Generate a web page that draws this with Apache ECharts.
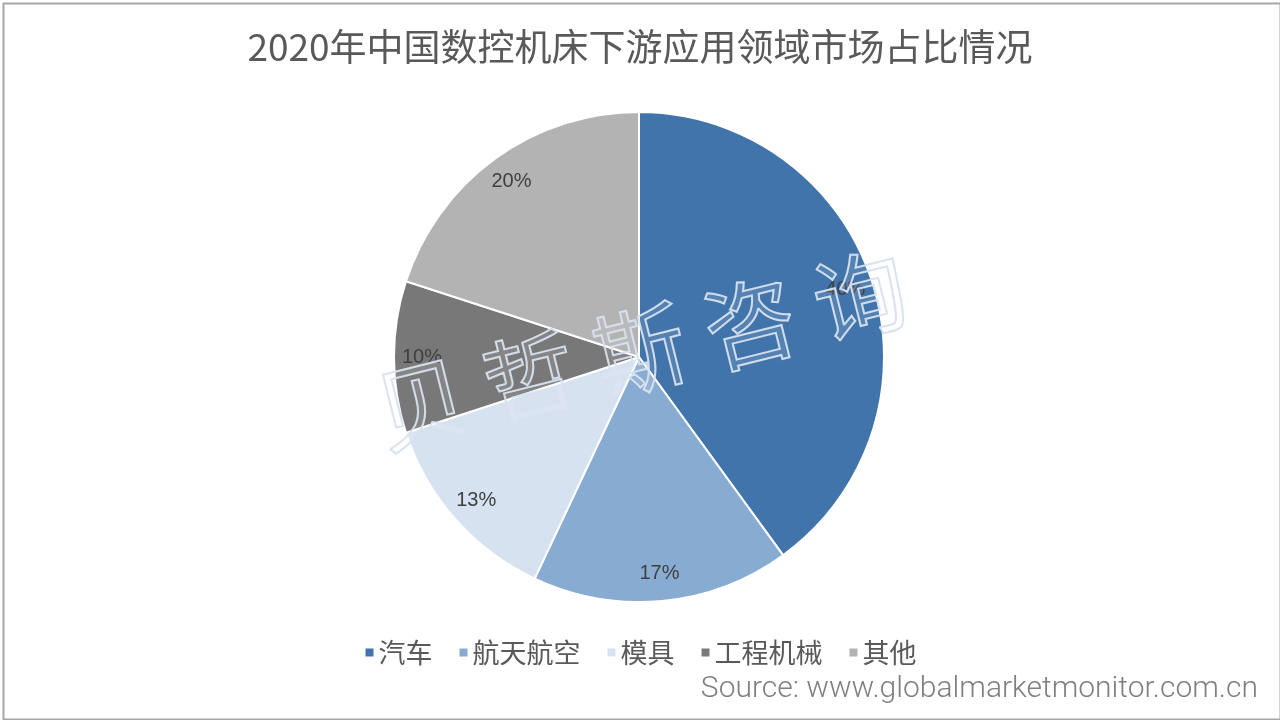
<!DOCTYPE html>
<html>
<head>
<meta charset="utf-8">
<script src="https://cdn.jsdelivr.net/npm/echarts@6/dist/echarts.min.js"></script>
<style>
html,body{margin:0;padding:0;background:#fff;}
#c{width:1280px;height:720px;}
</style>
</head>
<body>
<div id="c"></div>
<script>
var titleText = '2020年中国数控机床下游应用领域市场占比情况';
var categories = ['汽车', '航天航空', '模具', '工程机械', '其他'];
var values = [40, 17, 13, 10, 20];
var colors = ['#4174AA', '#88ABD1', '#D6E2F0', '#787878', '#B3B3B3'];
var sourceText = 'Source: www.globalmarketmonitor.com.cn';
var watermarkChars = ['贝', '哲', '斯', '咨', '询'];

var chart = echarts.init(document.getElementById('c'));
var pieData = categories.map(function (n, i) {
  return { name: n, value: values[i], itemStyle: { color: colors[i] } };
});
var wmPos = [[421, 404], [530, 377], [640, 350], [750, 323], [860, 296]];
var graphics = [
  { type: 'rect', left: 1, top: 1, z: 0, shape: { width: 1277, height: 716 },
    style: { fill: 'none', stroke: '#A6A6A6', lineWidth: 2 }, silent: true },
  { type: 'text', right: 22, top: 674, z: 10,
    style: { text: sourceText, fill: '#7F7F7F', font: '300 30px Roboto, sans-serif' } }
];
watermarkChars.forEach(function (ch, i) {
  graphics.push({
    type: 'text', x: wmPos[i][0], y: wmPos[i][1], rotation: 14 * Math.PI / 180, z: 100, silent: true,
    style: { text: ch, fill: 'rgba(255,255,255,0.10)', stroke: 'rgba(214,224,238,0.95)', lineWidth: 2,
      font: '92px "Noto Sans CJK SC"', align: 'center', verticalAlign: 'middle' }
  });
});

chart.setOption({
  backgroundColor: '#fff',
  animation: false,
  title: {
    text: titleText, left: 'center', top: 23,
    textStyle: { color: '#595959', fontSize: 37, fontWeight: 'normal', fontFamily: '"Noto Sans CJK SC"' }
  },
  legend: {
    data: categories, bottom: 49, left: 'center', itemWidth: 10, itemHeight: 10, itemGap: 25,
    icon: 'rect',
    textStyle: { color: '#595959', fontSize: 27, fontFamily: '"Noto Sans CJK SC"', padding: [0, 0, 0, -1] }
  },
  graphic: graphics,
  series: [
    {
      type: 'pie', center: [639, 357], radius: [0, 245], startAngle: 90, clockwise: true,
      label: { show: false }, labelLine: { show: false },
      itemStyle: { borderColor: '#fff', borderWidth: 2 },
      emphasis: { disabled: true },
      data: pieData
    },
    {
      type: 'pie', center: [639, 357], radius: [183, 245], startAngle: 90, clockwise: true, silent: true,
      legendHoverLink: false,
      itemStyle: { color: 'transparent' },
      emphasis: { disabled: true },
      label: { show: true, position: 'inside', formatter: '{d}%', color: '#404040', fontSize: 20,
        fontFamily: 'Arial, "Liberation Sans", sans-serif' },
      labelLine: { show: false },
      data: categories.map(function (n, i) { return { name: n + ' ', value: values[i] }; })
    }
  ]
});
</script>
</body>
</html>
